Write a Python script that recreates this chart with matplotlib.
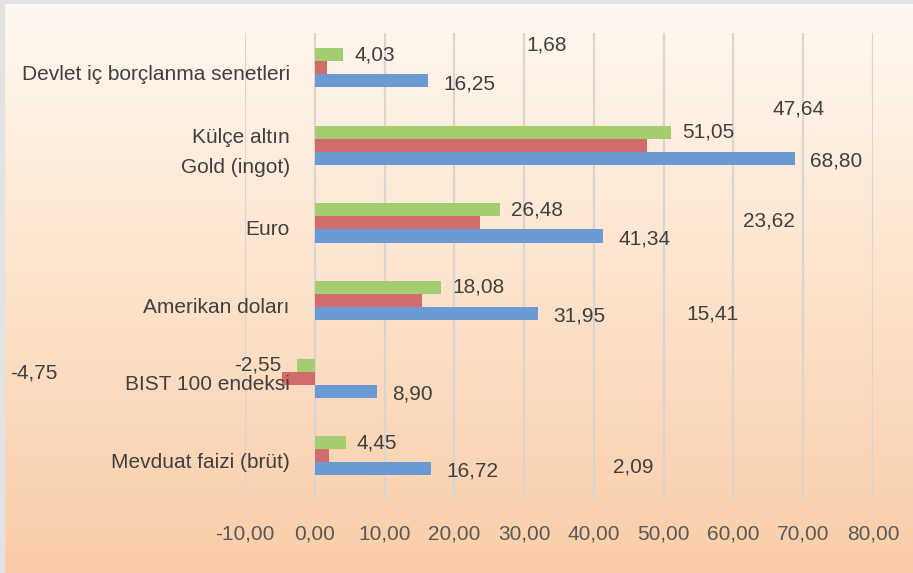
import matplotlib.pyplot as plt
import matplotlib.patches as mpatches
import numpy as np

plt.rcParams['font.family'] = ['Liberation Sans', 'DejaVu Sans']

categories = ['Devlet iç borçlanma senetleri', 'Külçe altın\nGold (ingot)', 'Euro',
              'Amerikan doları', 'BIST 100 endeksi', 'Mevduat faizi (brüt)']
blue_vals = [16.25, 68.80, 41.34, 31.95, 8.90, 16.72]
red_vals = [1.68, 47.64, 23.62, 15.41, -4.75, 2.09]
green_vals = [4.03, 51.05, 26.48, 18.08, -2.55, 4.45]
xticks = [-10, 0, 10, 20, 30, 40, 50, 60, 70, 80]

# the red labels were dragged around in the original, keep them where they sit
red_label_pos = [(30.3, -0.30), (65.6, 0.53), (61.4, 1.97), (53.3, 3.17), (-43.7, 3.93), (42.7, 5.15)]

c_blue = '#6b99d3'
c_red = '#d36b6b'
c_green = '#a3cd6f'
c_text = '#404040'
fs = 15

W, H = 913, 573
fig = plt.figure(figsize=(W / 100, H / 100), dpi=100)

# background gradient, light at the top, peach at the bottom
bg = fig.add_axes([0, 0, 1, 1], zorder=-10)
top = np.array([254, 248, 241]) / 255
mid = np.array([252, 227, 204]) / 255
bot = np.array([250, 205, 168]) / 255
t = np.linspace(0, 1, 300)[:, None]
grad = np.where(t < 0.5, top + (mid - top) * (t / 0.5), mid + (bot - mid) * ((t - 0.5) / 0.5))
bg.imshow(grad[:, None, :], aspect='auto', extent=[0, 1, 0, 1], origin='upper')
bg.set_xlim(0, 1)
bg.set_ylim(0, 1)
bg.axis('off')
fig.patches.append(mpatches.Rectangle((0, 1 - 3 / H), 1, 3 / H, transform=fig.transFigure,
                                      color='#e3e3e3', zorder=5))
fig.patches.append(mpatches.Rectangle((0, 0), 4 / W, 1, transform=fig.transFigure,
                                      color='#e3e3e3', zorder=5))

ax = fig.add_axes([245 / W, (H - 499) / H, (873 - 245) / W, 466 / H])
ax.patch.set_alpha(0)

y = np.arange(len(categories))
h = 0.168
ax.barh(y - h, green_vals, height=h, color=c_green)
ax.barh(y, red_vals, height=h, color=c_red)
ax.barh(y + h, blue_vals, height=h, color=c_blue)

def fmt(v):
    return f'{v:.2f}'.replace('.', ',')

for i in range(len(categories)):
    g = green_vals[i]
    if g >= 0:
        ax.annotate(fmt(g), (g, i - h), xytext=(8, 0), textcoords='offset points',
                    ha='left', va='center', fontsize=fs, color=c_text)
    else:
        ax.annotate(fmt(g), (g, i - h), xytext=(-11, 0), textcoords='offset points',
                    ha='right', va='center', fontsize=fs, color=c_text)
    b = blue_vals[i]
    ax.annotate(fmt(b), (b, i + h), xytext=(11, -2), textcoords='offset points',
                ha='left', va='center', fontsize=fs, color=c_text)
    rx, ry = red_label_pos[i]
    ax.text(rx, ry, fmt(red_vals[i]), ha='left', va='center', fontsize=fs,
            color=c_text, clip_on=False)
    ax.annotate(categories[i], (0, i), xytext=(-18, -5), textcoords='offset points',
                ha='right', va='center', fontsize=fs, color=c_text, linespacing=1.75,
                multialignment='right')

ax.set_xlim(-10, 80)
ax.set_ylim(5.56, -0.45)
ax.set_xticks(xticks)
ax.set_xticklabels([fmt(v) for v in xticks], fontsize=fs, color='#595959')
ax.set_yticks([])
ax.tick_params(axis='x', length=0, pad=18)
ax.grid(axis='x', color='#d9d5d1', linewidth=1.6)
ax.set_axisbelow(True)
for s in ax.spines.values():
    s.set_visible(False)

fig.savefig('out.png', dpi=100)
